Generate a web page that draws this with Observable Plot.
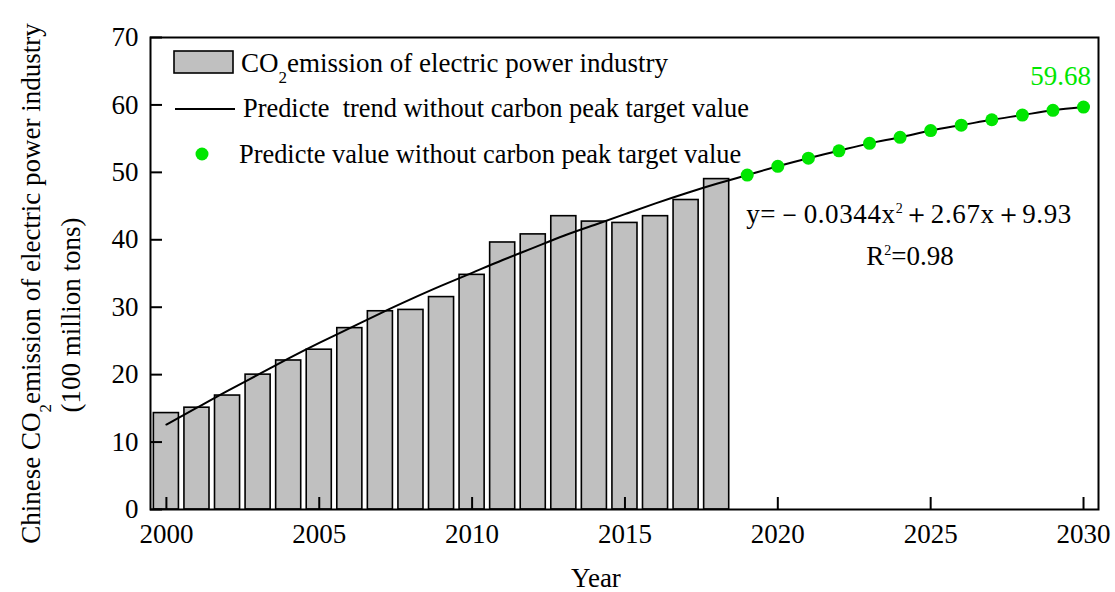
<!DOCTYPE html>
<html>
<head>
<meta charset="utf-8">
<script src="https://cdn.jsdelivr.net/npm/d3@7"></script>
<script src="https://cdn.jsdelivr.net/npm/@observablehq/plot@0.6"></script>
<style>
  html, body { margin: 0; padding: 0; background: #fff; }
  #chart svg { display: block; }
</style>
</head>
<body>
<div id="chart"></div>
<script>
// Observed CO2 emission of the electric power industry (100 million tons)
const observedYears = [2000, 2001, 2002, 2003, 2004, 2005, 2006, 2007, 2008, 2009,
                       2010, 2011, 2012, 2013, 2014, 2015, 2016, 2017, 2018];
const observedValues = [14.3, 15.1, 16.9, 20.0, 22.1, 23.7, 26.9, 29.4, 29.6, 31.5,
                        34.8, 39.6, 40.8, 43.5, 42.7, 42.5, 43.5, 45.9, 49.0];

// Fitted quadratic trend over the observed period
const trendYears = observedYears;
const trendValues = [12.6, 15.1, 17.6, 20.0, 22.4, 24.7, 26.9, 29.1, 31.2, 33.2,
                     35.1, 37.0, 38.8, 40.6, 42.2, 43.8, 45.4, 46.9, 48.3];

// Predicted values without a carbon peak target
const predictedYears = [2019, 2020, 2021, 2022, 2023, 2024, 2025, 2026, 2027, 2028, 2029, 2030];
const predictedValues = [49.6, 50.9, 52.1, 53.2, 54.3, 55.2, 56.2, 57.0, 57.8, 58.5, 59.2, 59.68];

const xTicks = [2000, 2005, 2010, 2015, 2020, 2025, 2030];
const yTicks = [0, 10, 20, 30, 40, 50, 60, 70];

const observed = observedYears.map((year, i) => ({year, value: observedValues[i]}));
const predicted = predictedYears.map((year, i) => ({year, value: predictedValues[i]}));
const trend = trendYears.map((year, i) => ({year, value: trendValues[i]})).concat(predicted);

const GREEN = "#00e600";
const FONT = "'Liberation Serif', 'Times New Roman', serif";
const W = 1115, H = 592;
const M = {top: 37, right: 17, bottom: 83, left: 150};
const innerW = W - M.left - M.right;
const innerH = H - M.top - M.bottom;

const chart = Plot.plot({
  width: W,
  height: H,
  marginTop: M.top,
  marginRight: M.right,
  marginBottom: M.bottom,
  marginLeft: M.left,
  style: {fontFamily: FONT, fontSize: "27px", color: "#000", background: "#fff"},
  x: {domain: [1999.48, 2030.49]},
  y: {domain: [0, 70]},
  marks: [
    Plot.rect(observed, {
      x1: d => d.year - 0.41, x2: d => d.year + 0.41, y1: 0, y2: "value",
      fill: "#c0c0c0", stroke: "#000", strokeWidth: 1.6
    }),
    Plot.line(trend, {x: "year", y: "value", curve: "natural", stroke: "#000", strokeWidth: 2}),
    Plot.dot(predicted, {x: "year", y: "value", r: 6.5, fill: GREEN, stroke: "none"}),
    Plot.text(predicted.slice(-1), {
      x: "year", y: "value", text: d => d.value.toFixed(2),
      fill: GREEN, dx: -23, dy: -31, fontSize: 27, fontFamily: FONT
    }),
    // inward ticks
    Plot.tickX(xTicks, {x: d => d, insetTop: innerH - 12, stroke: "#000", strokeWidth: 2}),
    Plot.tickY(yTicks, {y: d => d, insetRight: innerW - 12, stroke: "#000", strokeWidth: 2}),
    Plot.axisX({ticks: xTicks, tickSize: 0, tickPadding: 14, tickFormat: d => String(d), label: null, fontSize: 27}),
    Plot.axisY({ticks: yTicks, tickSize: 0, tickPadding: 12, label: null, fontSize: 27}),
    Plot.frame({stroke: "#000", strokeWidth: 2})
  ]
});

document.getElementById("chart").appendChild(chart);

// Annotations: legend, axis titles and the regression equation
const svg = d3.select(chart);
const g = svg.append("g")
  .attr("font-family", FONT)
  .attr("font-size", 27)
  .attr("text-anchor", "start")
  .attr("fill", "#000");

// parts: [string, "sub" | "sup" | undefined]
function richText(parent, parts, attrs) {
  const t = parent.append("text").style("white-space", "pre").attr("text-anchor", "start");
  for (const [k, v] of Object.entries(attrs)) t.attr(k, v);
  let shift = 0;
  for (const [str, kind] of parts) {
    const target = kind === "sub" ? 11 : kind === "sup" ? -10 : 0;
    const span = t.append("tspan").attr("dy", target - shift).text(str);
    if (kind) span.attr("font-size", kind === "sub" ? 17 : 14);
    shift = target;
  }
  return t;
}

// Legend
g.append("rect").attr("x", 174).attr("y", 51).attr("width", 59).attr("height", 22)
  .attr("fill", "#c0c0c0").attr("stroke", "#000").attr("stroke-width", 1.6);
richText(g, [["CO"], ["2", "sub"], ["emission of electric power industry"]], {x: 241, y: 72});

g.append("line").attr("x1", 175).attr("x2", 235).attr("y1", 109).attr("y2", 109)
  .attr("stroke", "#000").attr("stroke-width", 2);
richText(g, [["Predicte  trend without carbon peak target value"]], {x: 243, y: 117, "font-size": 26.4});

g.append("circle").attr("cx", 202).attr("cy", 154).attr("r", 6.5).attr("fill", GREEN);
richText(g, [["Predicte value without carbon peak target value"]], {x: 239, y: 163, "font-size": 26.4});

// Regression equation
richText(g, [["y=－0.0344x"], ["2", "sup"], ["＋2.67x＋9.93"]],
  {x: 909, y: 223, "text-anchor": "middle", "letter-spacing": 0.6});
richText(g, [["R"], ["2", "sup"], ["=0.98"]], {x: 910, y: 265, "text-anchor": "middle"});

// Axis titles
richText(g, [["Year"]], {x: 596, y: 587, "text-anchor": "middle"});
richText(g, [["Chinese CO"], ["2", "sub"], ["emission of electric power industry"]],
  {transform: "translate(39.5,283.5) rotate(-90)", "text-anchor": "middle"});
richText(g, [["(100 million tons)"]],
  {transform: "translate(79.5,315) rotate(-90)", "text-anchor": "middle"});
</script>
</body>
</html>
